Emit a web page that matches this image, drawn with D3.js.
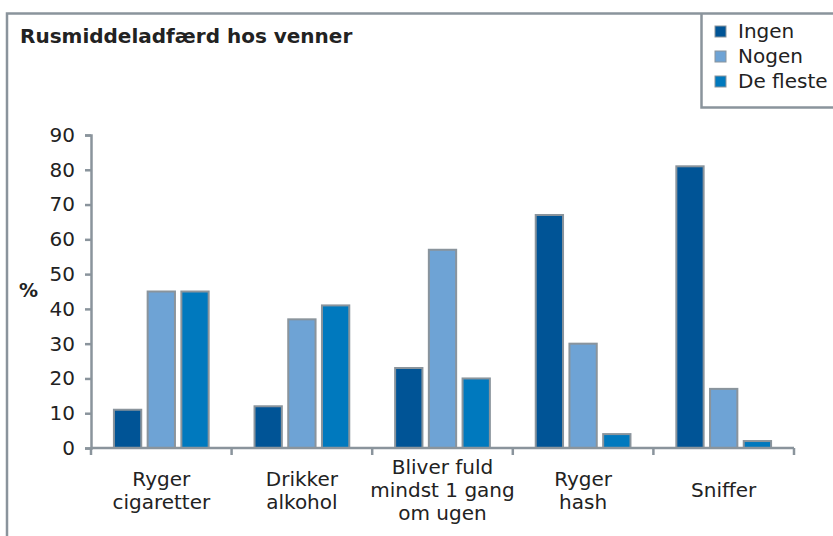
<!DOCTYPE html>
<html>
<head>
<meta charset="utf-8">
<script src="https://cdn.jsdelivr.net/npm/d3@7"></script>
<style>
  html, body { margin: 0; padding: 0; background: #fff; }
  svg { display: block; }
  text { font-family: "DejaVu Sans", Verdana, sans-serif; fill: #222; }
</style>
</head>
<body>
<svg id="chart" width="833" height="536"></svg>
<script>
// Share of friends with each behaviour (%)
const categories = [
  ["Ryger", "cigaretter"],
  ["Drikker", "alkohol"],
  ["Bliver fuld", "mindst 1 gang", "om ugen"],
  ["Ryger", "hash"],
  ["Sniffer"]
];
const seriesNames = ["Ingen", "Nogen", "De fleste"];
const ingen    = [11, 12, 23, 67, 81];
const nogen    = [45, 37, 57, 30, 17];
const deFleste = [45, 41, 20, 4, 2];
const yTicks = [0, 10, 20, 30, 40, 50, 60, 70, 80, 90];
const colors = ["#005496", "#6ea3d5", "#0079be"];
const title = "Rusmiddeladfærd hos venner";

const series = [ingen, nogen, deFleste];
const svg = d3.select("#chart");
const stroke = "#8a949c";
const fontSize = 20;

const plot = { left: 91, right: 794, top: 135, bottom: 448 };

// outer frame (top and left edges visible)
svg.append("path")
  .attr("d", `M7,536 L7,13.5 L833,13.5`)
  .attr("fill", "none").attr("stroke", stroke).attr("stroke-width", 2.5);

svg.append("text")
  .attr("x", 20).attr("y", 43)
  .attr("font-size", fontSize).attr("font-weight", "bold")
  .text(title);

const x0 = d3.scaleBand()
  .domain(d3.range(categories.length))
  .range([plot.left, plot.right])
  .paddingInner(0).paddingOuter(0);
const x1 = d3.scaleBand()
  .domain(d3.range(seriesNames.length))
  .range([0, x0.bandwidth()])
  .paddingInner(0.19).paddingOuter(0.68);
const y = d3.scaleLinear().domain([0, 90]).range([plot.bottom, plot.top]);

// bars
const groups = svg.append("g").selectAll("g")
  .data(categories.map((c, i) => i))
  .join("g")
  .attr("transform", i => `translate(${x0(i)},0)`);
groups.selectAll("rect")
  .data(i => series.map((s, k) => ({ k, v: s[i] })))
  .join("rect")
  .attr("x", d => x1(d.k))
  .attr("width", x1.bandwidth())
  .attr("y", d => y(d.v))
  .attr("height", d => y(0) - y(d.v))
  .attr("fill", d => colors[d.k])
  .attr("stroke", stroke).attr("stroke-width", 2);

// y axis
const yAxis = svg.append("g")
  .attr("transform", `translate(${plot.left},0)`)
  .call(d3.axisLeft(y).tickValues(yTicks).tickSize(6).tickPadding(10));
yAxis.select(".domain").attr("stroke", stroke).attr("stroke-width", 2.5);
yAxis.selectAll(".tick line").attr("stroke", stroke).attr("stroke-width", 2.5);
yAxis.selectAll(".tick text").attr("font-size", fontSize).attr("fill", "#222")
  .attr("font-family", '"DejaVu Sans", Verdana, sans-serif');

// x axis with ticks at category boundaries
const boundaries = d3.range(categories.length + 1).map(i => plot.left + i * x0.step());
const xAxisG = svg.append("g");
xAxisG.append("line")
  .attr("x1", plot.left).attr("x2", plot.right)
  .attr("y1", plot.bottom).attr("y2", plot.bottom)
  .attr("stroke", stroke).attr("stroke-width", 2.5);
xAxisG.selectAll("line.tick")
  .data(boundaries)
  .join("line").attr("class", "tick")
  .attr("x1", d => d).attr("x2", d => d)
  .attr("y1", plot.bottom).attr("y2", plot.bottom + 7)
  .attr("stroke", stroke).attr("stroke-width", 2.5);

const lineH = 23;
svg.append("g").selectAll("text")
  .data(categories.map((c, i) => ({ c, i })))
  .join("text")
  .attr("text-anchor", "middle")
  .attr("font-size", fontSize)
  .attr("x", d => x0(d.i) + x0.bandwidth() / 2)
  .attr("y", d => 497 - (d.c.length - 1) * lineH / 2)
  .each(function (d) {
    d3.select(this).selectAll("tspan")
      .data(d.c).join("tspan")
      .attr("x", x0(d.i) + x0.bandwidth() / 2)
      .attr("dy", (t, j) => j === 0 ? 0 : lineH)
      .text(t => t);
  });

// axis unit
svg.append("text")
  .attr("x", 19).attr("y", 297)
  .attr("font-size", 19).attr("font-weight", "bold")
  .text("%");

// legend
const lg = svg.append("g");
lg.append("path")
  .attr("d", "M701.5,13.5 L701.5,107.5 L833,107.5")
  .attr("fill", "none").attr("stroke", stroke).attr("stroke-width", 2.5);
const items = lg.selectAll("g.item")
  .data(seriesNames)
  .join("g").attr("class", "item")
  .attr("transform", (d, i) => `translate(715,${26 + i * 25})`);
items.append("rect")
  .attr("width", 11).attr("height", 11)
  .attr("fill", (d, i) => colors[i])
  .attr("stroke", stroke).attr("stroke-width", 1);
items.append("text")
  .attr("x", 23).attr("y", 12)
  .attr("font-size", fontSize)
  .text(d => d);
</script>
</body>
</html>
